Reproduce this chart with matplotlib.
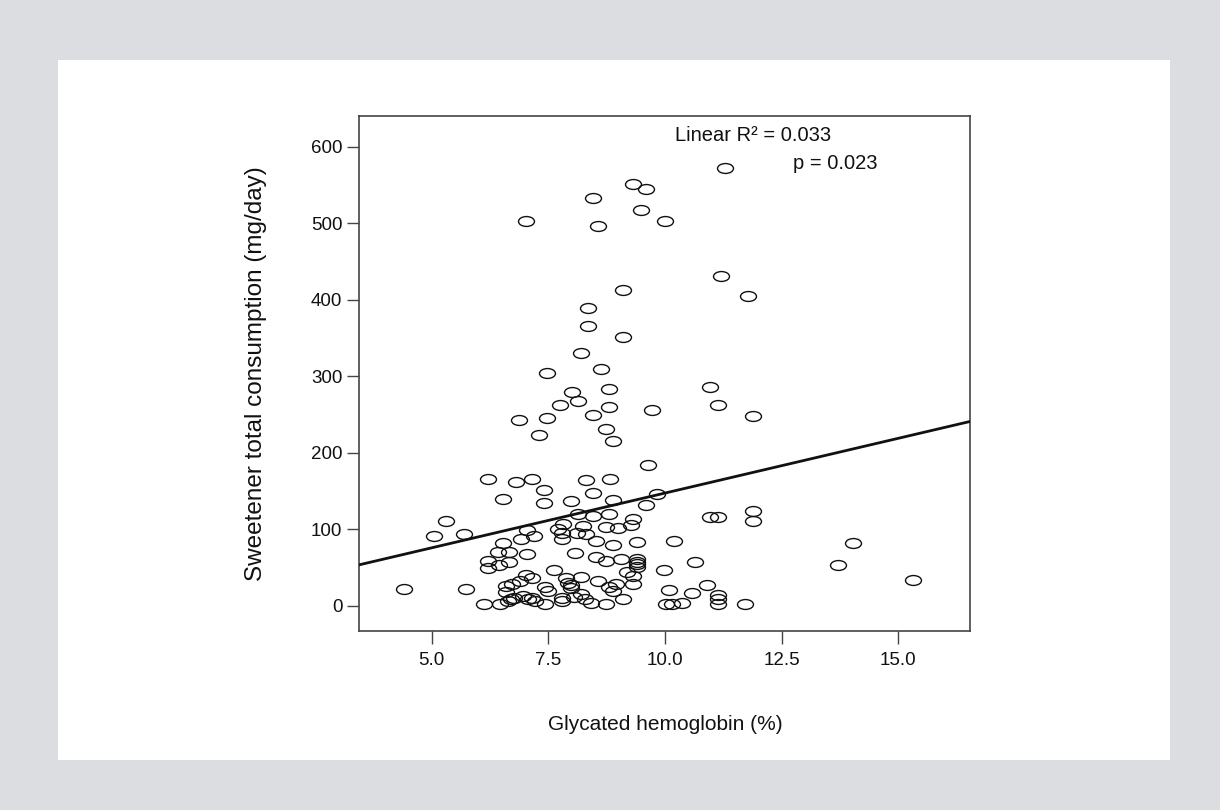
import matplotlib
matplotlib.use("Agg")
import matplotlib.pyplot as plt
import numpy as np
from matplotlib.path import Path
from matplotlib.transforms import Affine2D

plt.rcParams['font.family'] = ['Liberation Sans', 'DejaVu Sans']

# Data
hba1c = [
    9.32, 9.59, 8.46, 9.49, 10.00, 7.02, 8.57, 11.29, 11.20, 11.79, 9.11, 8.36, 8.36, 9.11, 8.19,
    7.47, 8.63, 8.01, 8.79, 8.13, 7.74, 8.79, 9.72, 6.86, 7.47, 8.46, 7.30, 8.73, 8.89, 9.64,
    6.20, 6.81, 7.14, 8.30, 8.83, 7.41, 6.53, 7.41, 7.98, 8.46, 8.89, 9.82, 9.59, 8.14, 8.46, 8.79, 9.32,
    5.30, 5.05, 5.69, 7.82, 8.25, 8.73, 9.00, 9.27, 7.71, 7.80, 7.80, 8.11, 8.30, 7.04, 6.91, 7.20, 6.53, 8.52, 8.89, 9.39,
    6.41, 6.66, 7.04, 8.07, 8.52, 8.73, 9.06, 9.39, 9.39, 9.39, 9.39, 6.20, 6.20, 6.44, 6.66, 7.63, 9.97, 9.18, 9.31,
    7.01, 7.14, 6.89, 6.71, 6.59, 7.88, 7.93, 7.99, 7.99, 8.20, 8.57, 8.79, 8.96, 9.32, 4.41, 5.73, 7.43, 7.50,
    6.59, 6.77, 6.96, 7.14, 7.79, 8.20, 8.29, 8.89, 9.11, 6.11, 6.46, 6.64, 6.70, 7.07, 7.21, 7.43, 7.79, 8.41, 8.73, 8.06,
    10.97, 11.13, 11.88, 10.97, 11.14, 11.88, 11.88, 10.19, 14.04, 13.72, 10.64, 15.31, 10.91, 10.09, 10.57,
    10.02, 10.16, 10.36, 11.14, 11.14, 11.14, 11.72,
]
sweetener = [
    551, 545, 533, 517, 503, 503, 497, 572, 431, 405, 413, 389, 366, 352, 331,
    304, 310, 280, 283, 268, 263, 260, 256, 243, 246, 249, 223, 231, 215, 184,
    166, 162, 166, 164, 166, 152, 140, 134, 137, 148, 138, 146, 132, 120, 118, 120, 114,
    111, 91, 94, 107, 105, 103, 102, 106, 100, 95, 88, 95, 94, 99, 87, 91, 82, 85, 80, 83,
    70, 70, 68, 69, 64, 59, 62, 62, 58, 55, 51, 59, 50, 54, 57, 47, 47, 44, 39,
    41, 36, 33, 29, 26, 36, 30, 27, 24, 38, 32, 25, 29, 29, 22, 22, 25, 20,
    18, 11, 13, 11, 11, 16, 9, 20, 9, 3, 3, 6, 9, 9, 6, 3, 6, 4, 3, 12,
    286, 263, 248, 116, 116, 124, 111, 85, 82, 53, 57, 34, 28, 21, 17,
    3, 3, 4, 14, 9, 3, 3,
]

fit_intercept = 4.5
fit_slope = 14.3

x_ticks = [5.0, 7.5, 10.0, 12.5, 15.0]
x_tick_labels = ["5.0", "7.5", "10.0", "12.5", "15.0"]
y_ticks = [0, 100, 200, 300, 400, 500, 600]

annot_r2 = "Linear R\u00b2 = 0.033"
annot_p = "p = 0.023"
x_label = "Glycated hemoglobin (%)"
y_label = "Sweetener total consumption (mg/day)"

# Figure
fig = plt.figure(figsize=(12.2, 8.1), dpi=100)
fig.patch.set_facecolor('#dcdde0')
panel = fig.add_axes([58 / 1220, 1 - 759.5 / 810, (1169.5 - 58) / 1220, (759.5 - 59.5) / 810])
panel.set_facecolor('white')
panel.set_xticks([]); panel.set_yticks([])
for s in panel.spines.values():
    s.set_visible(False)

ax = fig.add_axes([359 / 1220, 1 - 631 / 810, (970 - 359) / 1220, (631 - 115.7) / 810])
ax.set_facecolor('white')
xmin, xmax = 3.44, 16.54
ax.set_xlim(xmin, xmax)
ax.set_ylim(-32.7, 640.5)

ellipse = Path.unit_circle().transformed(Affine2D().scale(1.0, 0.62))
ax.plot(hba1c, sweetener, linestyle='none', marker=ellipse, markersize=11.5,
        markerfacecolor='none', markeredgecolor='#111111', markeredgewidth=1.0, zorder=3)

xs = np.array([xmin, xmax])
ax.plot(xs, fit_intercept + fit_slope * xs, color='#111111', linewidth=2.0, zorder=4)

ax.text(10.22, 615, annot_r2, fontsize=14.5, va='center', ha='left', color='#111111')
ax.text(12.75, 578, annot_p, fontsize=14.5, va='center', ha='left', color='#111111')

ax.set_xticks(x_ticks)
ax.set_xticklabels(x_tick_labels)
ax.set_yticks(y_ticks)
ax.tick_params(axis='both', length=9, width=1.0, color='#444444', labelsize=13.5,
               labelcolor='#111111')
ax.tick_params(axis='x', pad=6)
ax.tick_params(axis='y', pad=3)
for s in ax.spines.values():
    s.set_color('#444444')
    s.set_linewidth(1.2)

ax.set_xlabel(x_label, fontsize=15, color='#111111', va='center', ha='center')
ax.xaxis.set_label_coords((665 - 359) / 611, (631 - 725) / 515.3)
ax.set_ylabel(y_label, fontsize=17.5, color='#111111', va='center', ha='center')
ax.yaxis.set_label_coords((256 - 359) / 611, (631 - 374) / 515.3)

fig.savefig('out.png', dpi=100, facecolor=fig.get_facecolor())
